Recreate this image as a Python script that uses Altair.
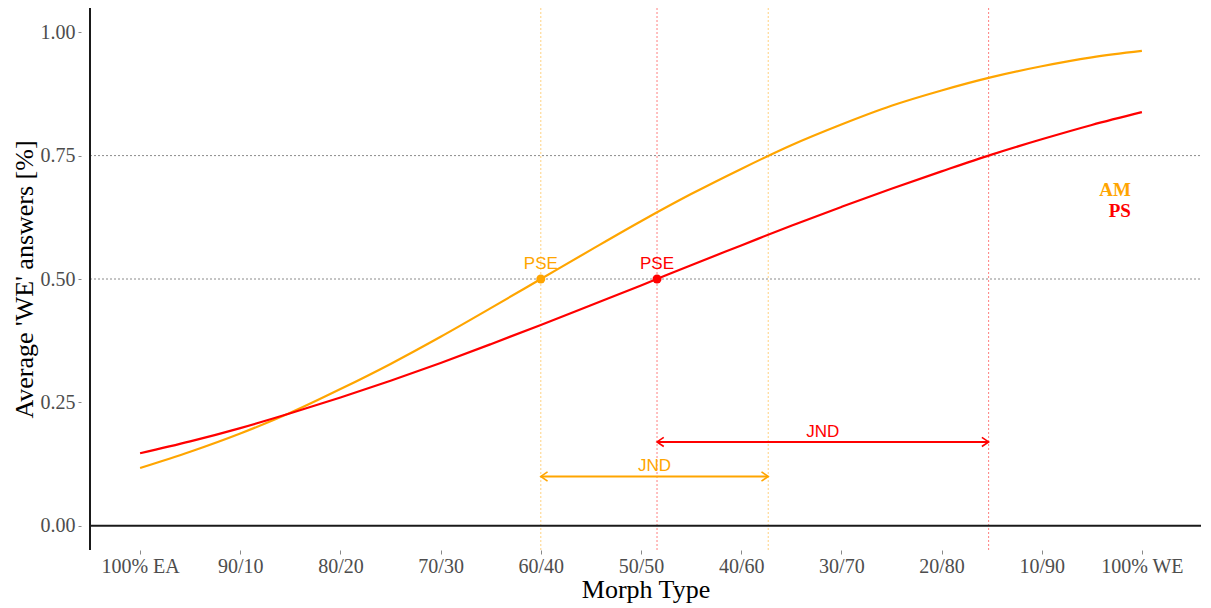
import altair as alt
import pandas as pd

# ---------------- data ----------------
tick_positions = [1, 2, 3, 4, 5, 6, 7, 8, 9, 10, 11]
tick_labels = ["100% EA", "90/10", "80/20", "70/30", "60/40", "50/50",
               "40/60", "30/70", "20/80", "10/90", "100% WE"]

curve_x = [1, 1.5, 2, 2.5, 3, 3.5, 4, 4.5, 5, 5.5, 6,
           6.5, 7, 7.5, 8, 8.5, 9, 9.5, 10, 10.5, 11]
am_y = [0.117, 0.150, 0.187, 0.229, 0.277, 0.328, 0.383, 0.441, 0.500, 0.559, 0.617,
        0.672, 0.723, 0.771, 0.813, 0.851, 0.882, 0.909, 0.931, 0.949, 0.962]
ps_y = [0.147, 0.171, 0.198, 0.228, 0.260, 0.294, 0.330, 0.368, 0.407, 0.447, 0.487,
        0.528, 0.568, 0.608, 0.646, 0.683, 0.718, 0.752, 0.783, 0.812, 0.838]

series = ["AM", "PS"]
colors = ["#FFA500", "#FF0000"]
pse_x = [5.0, 6.16]
pse_y = [0.5, 0.5]
jnd_end = [7.27, 9.47]
jnd_y = [0.10, 0.17]
grid_y = [0.5, 0.75]
y_ticks = [0.0, 0.25, 0.5, 0.75, 1.0]
legend_x = [10.89, 10.89]
legend_y = [0.68, 0.637]

# ---------------- tables ----------------
curves = pd.DataFrame({
    "x": curve_x * 2,
    "y": am_y + ps_y,
    "series": ["AM"] * len(curve_x) + ["PS"] * len(curve_x),
})
pse = pd.DataFrame({"series": series, "x": pse_x, "y": pse_y, "label": ["PSE", "PSE"]})
jnd = pd.DataFrame({"series": series, "x0": pse_x, "x1": jnd_end, "y": jnd_y,
                    "mid": [(a + b) / 2 for a, b in zip(pse_x, jnd_end)],
                    "label": ["JND", "JND"]})
vlines = pd.DataFrame({"series": series * 2, "x": pse_x + jnd_end})
grid = pd.DataFrame({"y": grid_y})
zero = pd.DataFrame({"y": [0.0]})
legend = pd.DataFrame({"series": series, "x": legend_x, "y": legend_y})

W, H = 1111, 542
XDOM = [0.5, 11.59]
YDOM = [-0.049, 1.049]

label_map = "{" + ",".join(f"'{p}':'{l}'" for p, l in zip(tick_positions, tick_labels)) + "}"

color = alt.Color("series:N", scale=alt.Scale(domain=series, range=colors), legend=None)


def X(field, axis=False):
    if axis:
        return alt.X(field, type="quantitative", scale=alt.Scale(domain=XDOM, nice=False, zero=False),
                     axis=alt.Axis(values=tick_positions, labelExpr=f"{label_map}[datum.value]",
                                   title="Morph Type", domain=False, grid=False,
                                   tickSize=4, tickColor="#888888", tickWidth=1,
                                   labelPadding=2, labelFont="Liberation Serif", labelFontSize=20,
                                   labelColor="#4D4D4D", titleFont="Liberation Serif",
                                   titleFontSize=26, titleFontWeight="normal", titleColor="#000000",
                                   titlePadding=0))
    return alt.X(field, type="quantitative", scale=alt.Scale(domain=XDOM, nice=False, zero=False))


def Y(field, axis=False):
    if axis:
        return alt.Y(field, type="quantitative", scale=alt.Scale(domain=YDOM, nice=False, zero=False),
                     axis=alt.Axis(values=y_ticks, format=".2f", title="Average 'WE' answers [%]",
                                   domain=False, grid=False, offset=9, tickSize=3,
                                   tickColor="#888888", tickWidth=1, labelPadding=3,
                                   labelFont="Liberation Serif", labelFontSize=20,
                                   labelColor="#4D4D4D", titleFont="Liberation Serif",
                                   titleFontSize=26, titleFontWeight="normal",
                                   titleColor="#000000", titlePadding=3))
    return alt.Y(field, type="quantitative", scale=alt.Scale(domain=YDOM, nice=False, zero=False))


grid_layer = alt.Chart(grid).mark_rule(color="#8a8a8a", strokeWidth=1, strokeDash=[2, 2]).encode(
    y=Y("y", axis=True), x=alt.value(0), x2=alt.value(W))

vline_layer = alt.Chart(vlines).mark_rule(strokeWidth=1, strokeDash=[2, 2], opacity=0.5).encode(
    x=X("x", axis=True), y=alt.value(0), y2=alt.value(H), color=color)

zero_layer = alt.Chart(zero).mark_rule(color="#1a1a1a", strokeWidth=2).encode(
    y=Y("y"), x=alt.value(0), x2=alt.value(W))

yaxis_layer = alt.Chart(zero).mark_rule(color="#1a1a1a", strokeWidth=2).encode(
    x=alt.value(0), y=alt.value(0), y2=alt.value(H))

line_layer = alt.Chart(curves).mark_line(strokeWidth=2.2, interpolate="monotone").encode(
    x=X("x"), y=Y("y"), color=color, detail="series:N")

pse_pts = alt.Chart(pse).mark_point(filled=True, size=80, opacity=1).encode(
    x=X("x"), y=Y("y"), color=color)

pse_txt = alt.Chart(pse).mark_text(font="Liberation Sans", fontSize=17, dy=-15, baseline="middle").encode(
    x=X("x"), y=Y("y"), text="label:N", color=color)

jnd_rule = alt.Chart(jnd).mark_rule(strokeWidth=2).encode(
    x=X("x0"), x2="x1", y=Y("y"), color=color)

left_head = alt.Chart(jnd).mark_point(shape="M1.1,-0.75L0,0L1.1,0.75", size=150, filled=False,
                                      strokeWidth=1.6, opacity=1).encode(
    x=X("x0"), y=Y("y"), color=color)

right_head = alt.Chart(jnd).mark_point(shape="M-1.1,-0.75L0,0L-1.1,0.75", size=150, filled=False,
                                       strokeWidth=1.6, opacity=1).encode(
    x=X("x1"), y=Y("y"), color=color)

jnd_txt = alt.Chart(jnd).mark_text(font="Liberation Sans", fontSize=17, dy=-10, baseline="middle").encode(
    x=X("mid"), y=Y("y"), text="label:N", color=color)

legend_txt = alt.Chart(legend).mark_text(font="Liberation Serif", fontSize=19, fontWeight="bold",
                                         align="right", baseline="middle").encode(
    x=X("x"), y=Y("y"), text="series:N", color=color)

chart = alt.layer(
    grid_layer, vline_layer, zero_layer, yaxis_layer, line_layer, jnd_rule,
    left_head, right_head, jnd_txt, pse_pts, pse_txt, legend_txt
).properties(
    width=W, height=H,
    autosize=alt.AutoSizeParams(type="none"),
    padding={"left": 82, "top": 0, "right": 2, "bottom": 54},
    background="white",
).configure_view(stroke=None)

chart.save("out.html", embed_options={"renderer": "svg", "actions": False})
